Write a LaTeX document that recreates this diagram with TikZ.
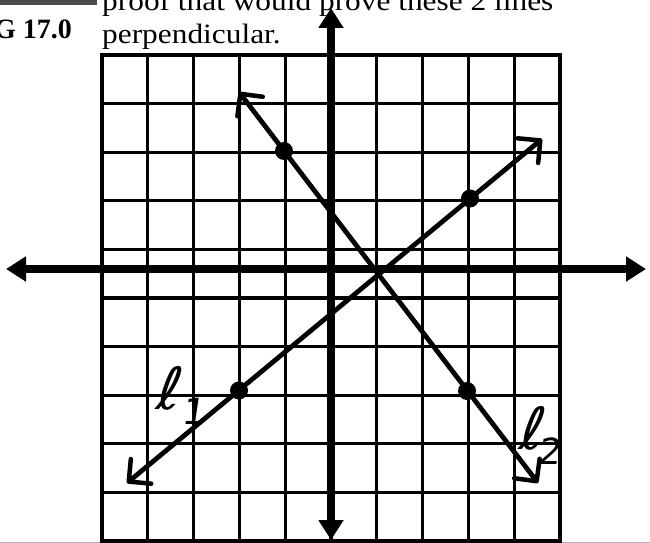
\documentclass[tikz,border=0pt]{standalone}
\usepackage{fontspec}
\setmainfont{Liberation Serif}
\newfontfamily\widefont[FakeStretch=1.12]{Liberation Serif}
\newfontfamily\handfont[FakeSlant=0.15]{DejaVu Sans}
\usetikzlibrary{arrows.meta}
\begin{document}
\begin{tikzpicture}[x=1pt,y=-1pt,
  gridline/.style={line width=3.3pt, black, line cap=rect},
  axisline/.style={line width=7.5pt, {Triangle[length=20pt,width=24pt]}-{Triangle[length=20pt,width=24pt]}},
  lineline/.style={line width=4.8pt, {Straight Barb[length=16pt,width=32pt,line width=4.5pt,round]}-{Straight Barb[length=16pt,width=32pt,line width=4.5pt,round]}},
  dot/.style={circle, fill=black, inner sep=0pt, minimum size=18pt},
  txt/.style={inner sep=0pt, anchor=base west, font=\widefont\fontsize{28}{31}\selectfont},
  ellstyle/.style={inner sep=0pt, font=\handfont\fontsize{58}{58}\selectfont},
  substyle/.style={inner sep=0pt, font=\handfont\fontsize{36}{36}\selectfont}]
\useasboundingbox (0,0) rectangle (650,543);
% header
\fill[black!70] (0,0) rectangle (97,5);
\draw[black!30, line width=1pt] (0,542.5) -- (650,542.5);
\node[txt] (t1) at (102,11) {proof that would prove these 2 lines};
\node[txt] (t2) at (102,44) {perpendicular.};
\node[inner sep=0pt, anchor=base east, font=\bfseries\fontsize{28}{28}\selectfont] (fig) at (72,38) {G 17.0};
% grid
\foreach \i in {0,...,10} \draw[gridline] ({102+45.8*\i},55) -- ({102+45.8*\i},541);
\foreach \j in {0,...,10} \draw[gridline] (102,{55+48.6*\j}) -- (560,{55+48.6*\j});
% axes
\coordinate (xl) at (6,269);
\coordinate (xr) at (646,269);
\coordinate (yt) at (331,8);
\coordinate (yb) at (331,540);
\draw[axisline] (xl) -- (xr);
\draw[axisline] (yb) -- (yt);
% lines
\coordinate (l1a) at (127,483);
\coordinate (l1b) at (542,139);
\coordinate (l2a) at (239,92);
\coordinate (l2b) at (538,483);
\draw[lineline] (l1a) -- (l1b);
\draw[lineline] (l2a) -- (l2b);
\node[dot] (d1) at (239,390.5) {};
\node[dot] (d2) at (470,198.5) {};
\node[dot] (d3) at (284,151) {};
\node[dot] (d4) at (467,391) {};
% labels
\node[ellstyle] (ell1) at (167,388) {ℓ};
\node[substyle] (sub1) at (193,411) {1};
\node[ellstyle] (ell2) at (530,428) {ℓ};
\node[substyle] (sub2) at (549,451) {2};
\end{tikzpicture}
\end{document}
